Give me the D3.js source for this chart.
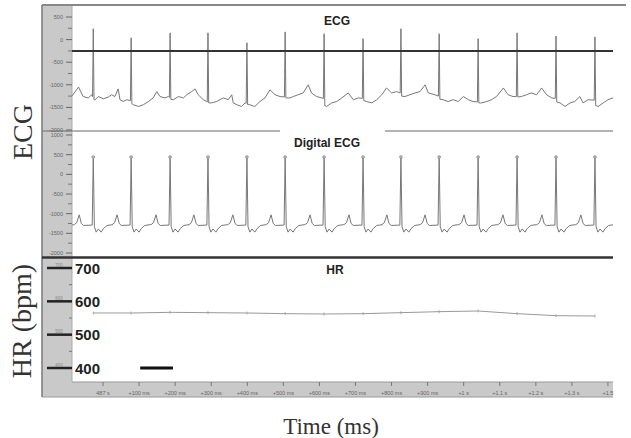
<!DOCTYPE html>
<html><head><meta charset="utf-8">
<script src="https://cdn.jsdelivr.net/npm/d3@7"></script>
<style>body{margin:0;background:#fff}svg{display:block}</style>
</head><body>
<svg id="c" width="631" height="438"></svg>
<script>
// ---------- DATA ----------
const beatTimes = [-27, 78, 186, 291, 399, 505, 613, 721, 826, 932, 1040, 1148, 1256, 1364]; // ms
const rawECG = [
[-87,-1260],[-68,-1050],[-55,-1260],[-41,-1290],[-31,-1220],[-29,-1260],[-27,240],[-25,-1330],[-22,-1330],[-13,-1260],[1,-1310],[15,-1270],[24,-1220],[33,-1260],[42,-1090],[47,-1330],[56,-1370],[66,-1330],[76,-1350],[78,40],[80,-1420],[84,-1440],[98,-1480],[112,-1440],[126,-1370],[139,-1290],[149,-1150],[158,-1260],[172,-1290],[181,-1260],[184,-1280],[186,150],[188,-1320],[195,-1330],[209,-1260],[223,-1290],[232,-1220],[246,-1150],[255,-1090],[264,-1220],[278,-1330],[287,-1370],[289,-1380],[291,150],[293,-1400],[301,-1400],[315,-1370],[324,-1330],[334,-1290],[347,-1330],[357,-1220],[361,-1400],[371,-1440],[384,-1480],[394,-1400],[397,-1410],[399,-70],[401,-1440],[407,-1440],[421,-1480],[435,-1370],[449,-1290],[463,-1110],[477,-1220],[491,-1260],[503,-1270],[505,170],[507,-1290],[518,-1290],[528,-1260],[541,-1220],[555,-1180],[569,-1000],[578,-1180],[592,-1260],[611,-1300],[613,130],[615,-1460],[620,-1480],[634,-1400],[648,-1370],[662,-1290],[680,-1180],[694,-1330],[708,-1290],[719,-1300],[721,20],[723,-1350],[731,-1370],[745,-1400],[759,-1330],[773,-1220],[786,-1070],[800,-1180],[814,-1150],[824,-1180],[826,240],[828,-1250],[837,-1260],[851,-1220],[865,-1180],[879,-1150],[893,-1000],[902,-1180],[920,-1220],[930,-1250],[932,130],[934,-1320],[943,-1330],[957,-1370],[971,-1330],[985,-1370],[999,-1260],[1013,-1330],[1026,-1370],[1038,-1380],[1040,20],[1042,-1400],[1050,-1400],[1064,-1370],[1077,-1330],[1091,-1260],[1110,-1070],[1123,-1220],[1137,-1260],[1146,-1260],[1148,150],[1150,-1270],[1160,-1260],[1174,-1220],[1188,-1180],[1202,-1220],[1216,-1070],[1230,-1220],[1244,-1290],[1254,-1300],[1256,80],[1258,-1380],[1267,-1400],[1281,-1480],[1295,-1400],[1308,-1370],[1322,-1260],[1331,-1400],[1345,-1330],[1362,-1340],[1364,60],[1366,-1460],[1373,-1480],[1387,-1400],[1400,-1330],[1414,-1290]
];
const rawThreshold = -250;
// digital ECG: one beat template (offset ms, value) repeated at each beat time
const digitalStart = [-86, -1290];
const templateOffsets = [-53, -46, -39, -33, -27, -3, 0, 3, 8, 14, 22, 28, 38, 53];
const templateValues  = [-1280, -1230, -1030, -1250, -1300, -1290, 440, -1330, -1470, -1390, -1470, -1380, -1300, -1280];
const hrValues = [565, 565, 567, 566, 565, 563, 562, 563, 566, 569, 571, 563, 557, 556];
const scaleBar = [103, 194];
const xTickValues = [0,100,200,300,400,500,600,700,800,900,1000,1100,1200,1300,1400];
const xTickLabels = ["487 s","+100 ms","+200 ms","+300 ms","+400 ms","+500 ms","+600 ms","+700 ms","+800 ms","+900 ms","+1 s","+1.1 s","+1.2 s","+1.3 s","+1.5"];
const rawTicks = [500, 0, -500, -1000, -1500, -2000];
const digTicks = [1000, 500, 0, -500, -1000, -1500, -2000];
const hrTicks = [700, 600, 500, 400];

// ---------- LAYOUT ----------
const svg = d3.select("#c");
const L = 42, S = 72, R = 613;
const x = d3.scaleLinear().domain([-86, 1414]).range([S, R]);
const yRaw = d3.scaleLinear().domain([-2000, 500]).range([130, 17]);
const yDig = d3.scaleLinear().domain([-2000, 1000]).range([253, 135]);
const yHR = d3.scaleLinear().domain([400, 700]).range([368, 268]);

svg.append("defs").append("clipPath").attr("id","pc").append("rect")
  .attr("x", S).attr("y", 5).attr("width", R - S).attr("height", 377);

// gray left strip and bottom axis band
svg.append("rect").attr("x", L).attr("y", 5).attr("width", S - L).attr("height", 392).attr("fill", "#c9c9c9");
svg.append("rect").attr("x", L).attr("y", 382).attr("width", R - L).attr("height", 15).attr("fill", "#c9c9c9");
svg.append("line").attr("x1", L).attr("x2", L).attr("y1", 5).attr("y2", 397).attr("stroke", "#777").attr("stroke-width", 1.5);
svg.append("line").attr("x1", L).attr("x2", R).attr("y1", 397).attr("y2", 397).attr("stroke", "#999").attr("stroke-width", 1);
svg.append("line").attr("x1", S).attr("x2", R).attr("y1", 382).attr("y2", 382).attr("stroke", "#999").attr("stroke-width", 1);
svg.append("line").attr("x1", S).attr("x2", S).attr("y1", 5).attr("y2", 382).attr("stroke", "#aaa").attr("stroke-width", 1);
// top border
svg.append("line").attr("x1", L).attr("x2", 626).attr("y1", 5).attr("y2", 5).attr("stroke", "#888").attr("stroke-width", 2);
// separator between ECG and Digital ECG (with gap)
svg.append("line").attr("x1", S).attr("x2", 280).attr("y1", 131).attr("y2", 131).attr("stroke", "#999").attr("stroke-width", 1.5);
svg.append("line").attr("x1", 385).attr("x2", R).attr("y1", 131).attr("y2", 131).attr("stroke", "#999").attr("stroke-width", 1.5);
svg.append("line").attr("x1", L).attr("x2", S).attr("y1", 131).attr("y2", 131).attr("stroke", "#888").attr("stroke-width", 1.5);
// separator between Digital ECG and HR
svg.append("line").attr("x1", L).attr("x2", R).attr("y1", 257.5).attr("y2", 257.5).attr("stroke", "#333").attr("stroke-width", 2.5);

// small left axes
function smallAxis(scale, ticks) {
  const g = svg.append("g");
  ticks.forEach((v, i) => {
    const yy = scale(v);
    g.append("line").attr("x1", 66).attr("x2", S).attr("y1", yy).attr("y2", yy).attr("stroke", "#666").attr("stroke-width", 1);
    g.append("text").attr("x", 63).attr("y", yy + 2).attr("text-anchor", "end")
      .attr("font-family", "Arial, Liberation Sans, sans-serif").attr("font-size", 5.5).attr("fill", "#666").text(String(v));
    if (i < ticks.length - 1) {
      const ym = scale((v + ticks[i + 1]) / 2);
      g.append("line").attr("x1", 68).attr("x2", S).attr("y1", ym).attr("y2", ym).attr("stroke", "#777").attr("stroke-width", 1);
    }
  });
}
smallAxis(yRaw, rawTicks);
smallAxis(yDig, digTicks);

// HR axis
hrTicks.forEach((v, i) => {
  const yy = yHR(v);
  svg.append("line").attr("x1", 47).attr("x2", S).attr("y1", yy).attr("y2", yy).attr("stroke", "#222").attr("stroke-width", 2.5);
  svg.append("text").attr("x", 59).attr("y", yy - 1.5).attr("text-anchor", "middle")
    .attr("font-family", "Arial, sans-serif").attr("font-size", 4.5).attr("fill", "#888").text(String(v));
  svg.append("text").attr("x", 75).attr("y", yy + 5.5)
    .attr("font-family", "Liberation Sans, Arial, sans-serif").attr("font-weight", "bold").attr("font-size", 15).attr("fill", "#222").text(String(v));
  if (i < hrTicks.length - 1) {
    const ym = yHR((v + hrTicks[i + 1]) / 2);
    svg.append("line").attr("x1", 69).attr("x2", S).attr("y1", ym).attr("y2", ym).attr("stroke", "#777").attr("stroke-width", 1);
  }
});

// x axis
const xa = svg.append("g");
xTickValues.forEach((t, i) => {
  xa.append("line").attr("x1", x(t)).attr("x2", x(t)).attr("y1", 382).attr("y2", 386).attr("stroke", "#777").attr("stroke-width", 1);
  xa.append("text").attr("x", x(t)).attr("y", 394.5).attr("text-anchor", "middle")
    .attr("font-family", "Arial, sans-serif").attr("font-size", 5.5).attr("fill", "#666").text(xTickLabels[i]);
});

const plot = svg.append("g").attr("clip-path", "url(#pc)");

// raw ECG
plot.append("path").datum(rawECG)
  .attr("d", d3.line().x(d => x(d[0])).y(d => yRaw(d[1])))
  .attr("fill", "none").attr("stroke", "#777").attr("stroke-width", 1);
// threshold line
plot.append("line").attr("x1", S).attr("x2", R).attr("y1", yRaw(rawThreshold)).attr("y2", yRaw(rawThreshold))
  .attr("stroke", "#333").attr("stroke-width", 2);

// digital ECG
const digPts = [digitalStart];
beatTimes.forEach(bt => templateOffsets.forEach((o, j) => digPts.push([bt + o, templateValues[j]])));
plot.append("path").datum(digPts)
  .attr("d", d3.line().x(d => x(d[0])).y(d => yDig(d[1])))
  .attr("fill", "none").attr("stroke", "#777").attr("stroke-width", 1);
plot.selectAll("circle.pk").data(beatTimes).enter().append("circle")
  .attr("cx", d => x(d)).attr("cy", yDig(templateValues[templateOffsets.indexOf(0)]))
  .attr("r", 1.4).attr("fill", "#bbb").attr("stroke", "#888").attr("stroke-width", 0.7);

// HR
const hrPts = beatTimes.map((t, i) => [t, hrValues[i]]);
plot.append("path").datum(hrPts)
  .attr("d", d3.line().x(d => x(d[0])).y(d => yHR(d[1])))
  .attr("fill", "none").attr("stroke", "#999").attr("stroke-width", 1);
plot.selectAll("line.hrm").data(hrPts).enter().append("line")
  .attr("x1", d => x(d[0])).attr("x2", d => x(d[0]))
  .attr("y1", d => yHR(d[1]) - 1.5).attr("y2", d => yHR(d[1]) + 1.5)
  .attr("stroke", "#999").attr("stroke-width", 0.8);
// scale bar
plot.append("line").attr("x1", x(scaleBar[0])).attr("x2", x(scaleBar[1])).attr("y1", yHR(400)).attr("y2", yHR(400))
  .attr("stroke", "#111").attr("stroke-width", 3);

// panel titles
const tf = "Liberation Sans, Arial, sans-serif";
svg.append("text").attr("x", 337).attr("y", 25).attr("text-anchor", "middle").attr("font-family", tf).attr("font-weight", "bold").attr("font-size", 12).attr("fill", "#222").text("ECG");
svg.append("text").attr("x", 327).attr("y", 147).attr("text-anchor", "middle").attr("font-family", tf).attr("font-weight", "bold").attr("font-size", 12).attr("fill", "#222").text("Digital ECG");
svg.append("text").attr("x", 335).attr("y", 274).attr("text-anchor", "middle").attr("font-family", tf).attr("font-weight", "bold").attr("font-size", 12).attr("fill", "#222").text("HR");

// axis titles (serif)
const sf = "Liberation Serif, Times New Roman, serif";
svg.append("text").attr("transform", "translate(32,132) rotate(-90)").attr("text-anchor", "middle")
  .attr("font-family", sf).attr("font-size", 28).attr("fill", "#333").text("ECG");
svg.append("text").attr("transform", "translate(31,321) rotate(-90)").attr("text-anchor", "middle")
  .attr("font-family", sf).attr("font-size", 28).attr("fill", "#333").text("HR (bpm)");
svg.append("text").attr("x", 331).attr("y", 434).attr("text-anchor", "middle")
  .attr("font-family", sf).attr("font-size", 23).attr("fill", "#333").text("Time (ms)");
</script>
</body></html>
